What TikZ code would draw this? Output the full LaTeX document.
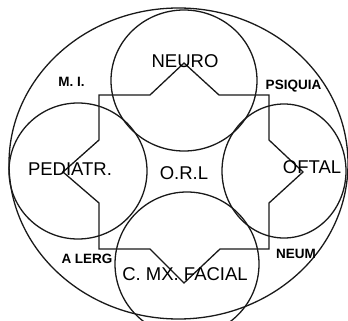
\documentclass[tikz,border=0pt]{standalone}
\usepackage{fontspec}
\setmainfont{Liberation Sans}
\tikzset{
  ring/.style={draw=black!90, line width=1.3pt},
  star/.style={draw=black!90, line width=1.3pt, line join=miter},
  big/.style={inner sep=0pt, anchor=base, font=\fontsize{18.5}{20}\selectfont},
  small/.style={inner sep=0pt, anchor=base, font=\fontsize{13.5}{15}\selectfont\bfseries},
}
\begin{document}
\begin{tikzpicture}[x=1pt,y=-1pt]
\useasboundingbox (0,0) rectangle (348,321);
% outer ellipse
\draw[ring] (178.5,163.5) ellipse [x radius=169.5pt, y radius=155.5pt];
% four circles
\draw[ring] (184,80.5) ellipse [x radius=73pt, y radius=70.5pt];
\draw[ring] (78,171) ellipse [x radius=69pt, y radius=68pt];
\draw[ring] (284,171) ellipse [x radius=62pt, y radius=67pt];
\draw[ring] (187,264) ellipse [x radius=72pt, y radius=72pt];
% star-shaped rectangle
\draw[star] (99,95) -- (150,95) -- (184,63) -- (219,95) -- (269,95) -- (269,140)
  -- (303,172) -- (269,203) -- (269,249) -- (220,249) -- (184,283) -- (150,249)
  -- (99,249) -- (99,203) -- (63,172) -- (99,140) -- cycle;
% labels
\node[big] (neuro) at (185,67) {NEURO};
\node[big] (ped) at (70,175) {PEDIATR.};
\node[big] (orl) at (184,179) {O.R.L};
\node[big] (oftal) at (312,173) {OFTAL};
\node[big] (cmx) at (185,280) {C. MX. FACIAL};
\node[small] (mi) at (71.5,86) {M. I.};
\node[small] (psi) at (293.5,89) {PSIQUIA};
\node[small] (alerg) at (87,263) {A LERG};
\node[small] (neum) at (296,258) {NEUM};
\end{tikzpicture}
\end{document}
